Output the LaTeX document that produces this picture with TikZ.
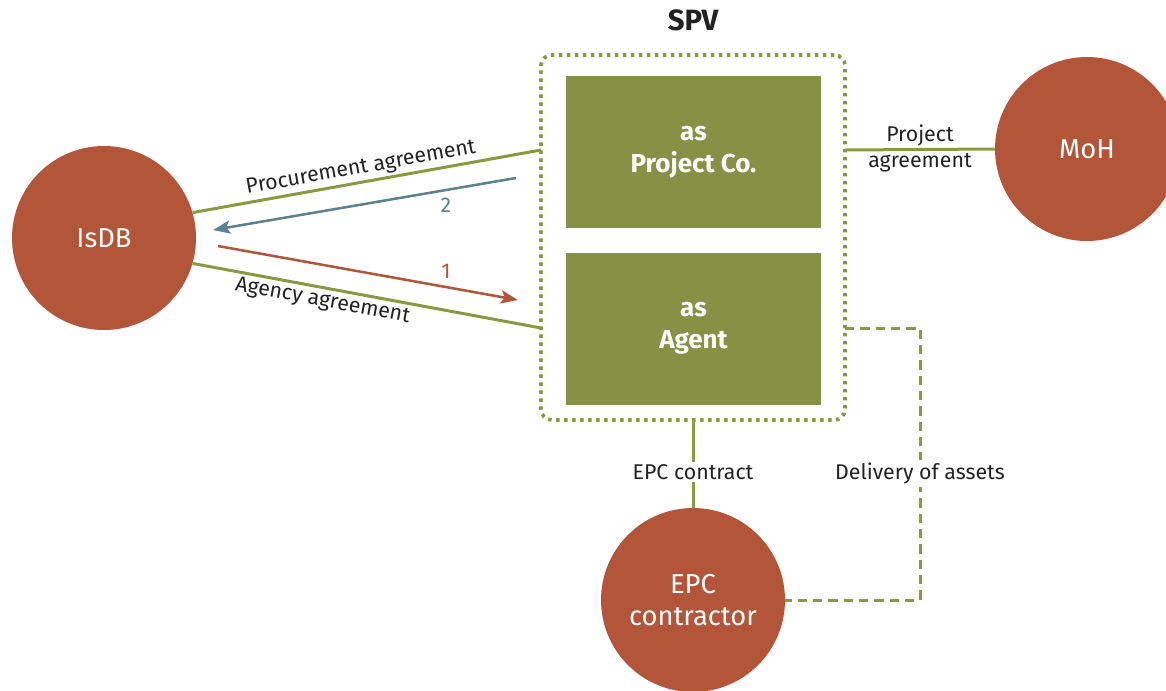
\documentclass[tikz,border=0pt]{standalone}
\usepackage{fontspec}
\setmainfont{Fira Sans}
\usetikzlibrary{arrows.meta}
\definecolor{rust}{HTML}{B35539}
\definecolor{olive}{HTML}{869145}
\definecolor{oline}{HTML}{8A993E}
\definecolor{slate}{HTML}{5A8290}
\definecolor{ink}{HTML}{222222}
\begin{document}
\begin{tikzpicture}[x=0.75pt,y=-0.75pt,
  party/.style={circle, fill=rust, text=white, minimum size=138pt, inner sep=0pt,
    font=\fontsize{20.5}{24}\selectfont, align=center},
  role/.style={rectangle, fill=olive, text=white, minimum width=191.25pt,
    minimum height=114pt, inner sep=0pt, font=\bfseries\fontsize{19.5}{24}\selectfont, align=center},
  frame/.style={rectangle, draw=oline, line width=2.8pt, rounded corners=8pt,
    dash pattern=on 2.6pt off 3.4pt, minimum width=228pt, minimum height=273.75pt, inner sep=0pt},
  link/.style={draw=oline, line width=2.25pt},
  dlink/.style={draw=oline, line width=2.25pt, dash pattern=on 7pt off 4.5pt},
  lbl/.style={text=ink, font=\fontsize{16}{19.5}\selectfont, inner sep=2pt},
  flow/.style={line width=1.9pt, -{Stealth[length=13pt,width=10pt,inset=3pt]}}
]
\useasboundingbox (0,0) rectangle (1166,690);
\clip (0,0) rectangle (1166,690);

% SPV frame and title
\node[frame] (spv) at (693,237.5) {};
\node[text=ink, font=\bfseries\fontsize{22}{24}\selectfont] (spvt) at (693,20) {SPV};

% role boxes
\node[role] (pc) at (693.5,152) {as\\Project Co.};
\node[role] (ag) at (693.5,328.5) {as\\Agent};

% parties
\node[party] (isdb) at (104,238) {IsDB};
\node[party] (moh) at (1087,149) {MoH};
\node[party] (epc) at (693,600) {EPC\\contractor};

% anchor points on the SPV frame
\coordinate (spvA) at (541,150);
\coordinate (spvB) at (541,328);
\coordinate (spvC) at (845,150);
\coordinate (spvD) at (845,328);
\coordinate (spvE) at (693,420);
\coordinate (d1) at (920,328);
\coordinate (d2) at (920,600);

% agreements with IsDB
\draw[link] (isdb.16) -- node[lbl, sloped, above, pos=0.49] {Procurement agreement} (spvA);
\draw[link] (isdb.-16) -- node[lbl, sloped, below, pos=0.38] {Agency agreement} (spvB);

% flows
\coordinate (f2s) at (516,178);
\coordinate (f2e) at (213,230);
\coordinate (f1s) at (218,246);
\coordinate (f1e) at (518,300);
\draw[flow, slate] (f2s) -- (f2e);
\draw[flow, rust] (f1s) -- (f1e);
\node[text=slate, font=\fontsize{16}{18}\selectfont] (n2) at (446,205) {2};
\node[text=rust, font=\fontsize{16}{18}\selectfont] (n1) at (446,271) {1};

% project agreement
\draw[link] (spvC) -- (moh.west);
\node[lbl, align=center] (pa) at (920,148) {Project\\agreement};

% EPC contract
\draw[link] (spvE) -- node[lbl, fill=white, pos=0.59] {EPC contract} (epc.north);

% delivery of assets
\draw[dlink] (spvD) -- (d1) -- node[lbl, fill=white, pos=0.535] {Delivery of assets} (d2) -- (epc.east);
\end{tikzpicture}
\end{document}
